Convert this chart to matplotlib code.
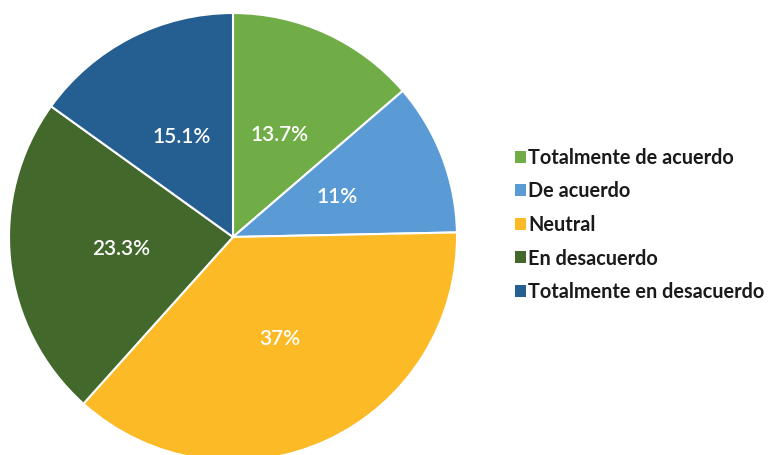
import matplotlib
matplotlib.use("Agg")
import matplotlib.pyplot as plt
from matplotlib.patches import Patch
import numpy as np

categories = ["Totalmente de acuerdo", "De acuerdo", "Neutral", "En desacuerdo",
              "Totalmente en desacuerdo"]
values = [13.7, 11, 37, 23.3, 15.1]
labels = ["13.7%", "11%", "37%", "23.3%", "15.1%"]
colors = ["#70AD47", "#5B9BD5", "#FBBA26", "#43682B", "#255E91"]

plt.rcParams["font.family"] = ["Lato", "DejaVu Sans"]

W, H = 775, 455
fig = plt.figure(figsize=(W / 100, H / 100), dpi=100)
cx, cy, r = 233, 237, 224
ax = fig.add_axes([(cx - r) / W, (H - cy - r) / H, 2 * r / W, 2 * r / H])
wedges, _ = ax.pie(values, colors=colors, startangle=90, counterclock=False,
                   radius=1, wedgeprops=dict(edgecolor="white", linewidth=1.5))
theta = 90.0
total = sum(values)
for v, lab in zip(values, labels):
    mid = np.deg2rad(theta - v / total * 360 / 2)
    ax.text(0.5 * np.cos(mid), 0.5 * np.sin(mid), lab, ha="center", va="center",
            color="white", fontsize=15, fontweight="semibold")
    theta -= v / total * 360
ax.set_xlim(-1, 1)
ax.set_ylim(-1, 1)
ax.set_aspect("equal")
ax.axis("off")

handles = [Patch(facecolor=c, edgecolor="none") for c in colors]
fig.legend(handles, categories, loc="center left", bbox_to_anchor=(497 / W, 1 - 225 / H),
           frameon=False, handlelength=0.55, handleheight=0.55,
           handletextpad=0.12, labelspacing=0.68, labelcolor="#1a1a1a",
           prop=dict(size=14.3, weight="bold"))

fig.savefig("out.png", dpi=100, facecolor="white")
